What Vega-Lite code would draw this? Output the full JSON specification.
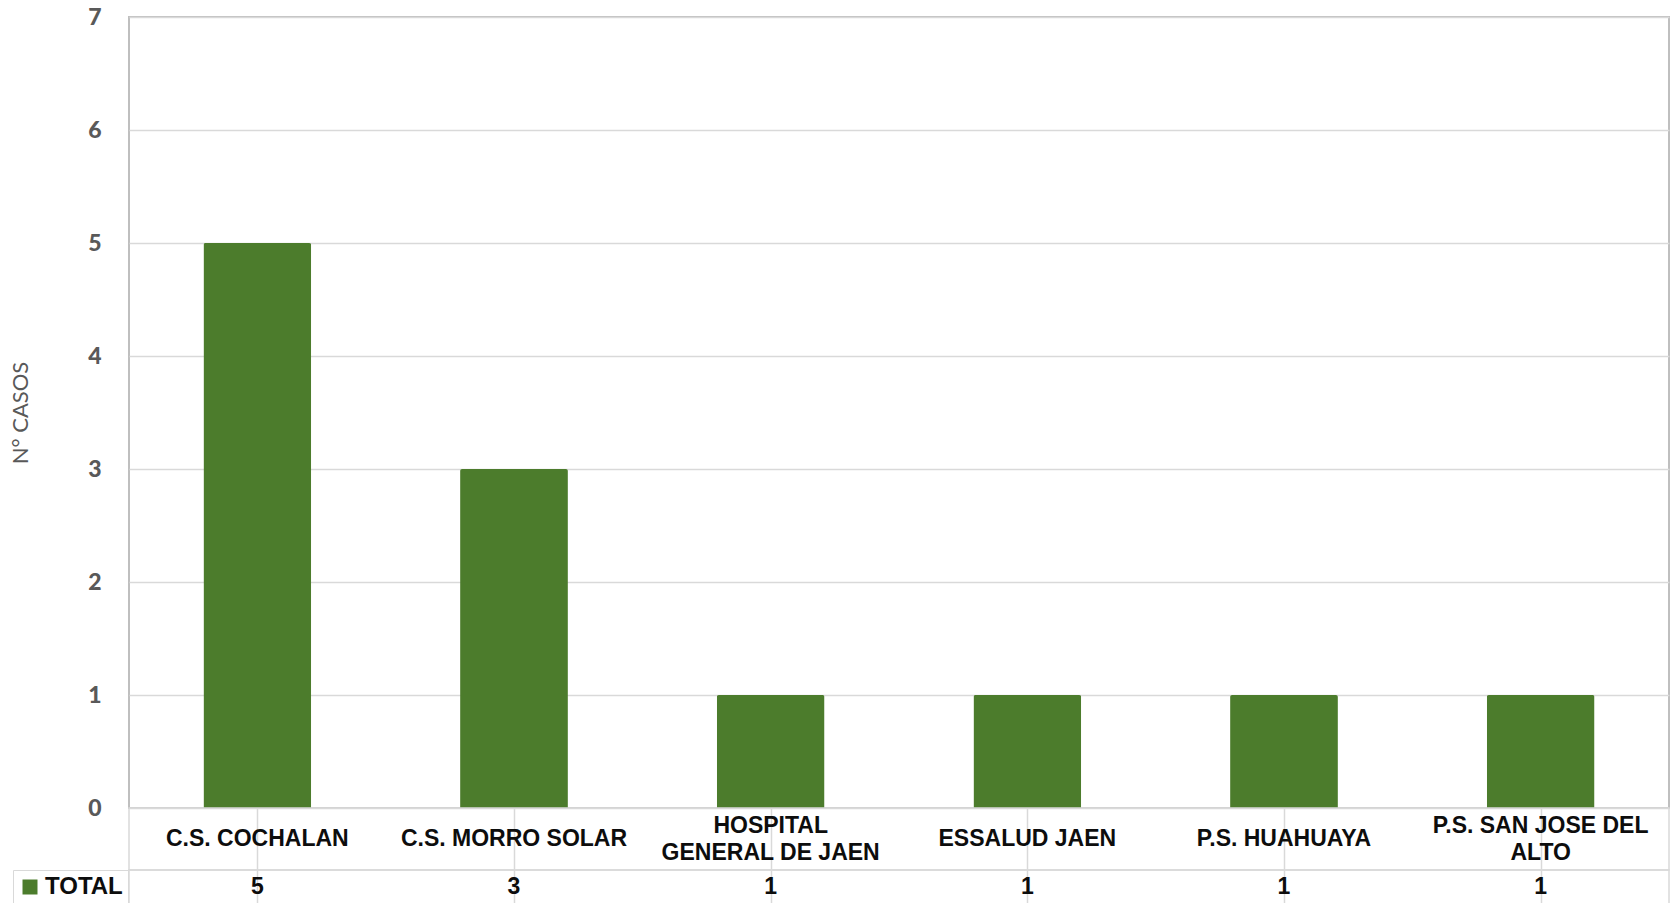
{
  "$schema": "https://vega.github.io/schema/vega-lite/v6.json",
  "background": "white",
  "padding": {"left": 8, "top": 5, "right": 5, "bottom": 0},
  "spacing": 0,
  "bounds": "flush",
  "config": {
    "font": "Liberation Sans",
    "view": {"stroke": "#d9d9d9", "strokeWidth": 1.5},
    "concat": {"spacing": 0}
  },
  "datasets": {
    "casos": [
      {"establecimiento": "C.S. COCHALAN", "serie": "TOTAL", "casos": 5},
      {"establecimiento": "C.S. MORRO SOLAR", "serie": "TOTAL", "casos": 3},
      {"establecimiento": "HOSPITAL\nGENERAL DE JAEN", "serie": "TOTAL", "casos": 1},
      {"establecimiento": "ESSALUD JAEN", "serie": "TOTAL", "casos": 1},
      {"establecimiento": "P.S. HUAHUAYA", "serie": "TOTAL", "casos": 1},
      {"establecimiento": "P.S. SAN JOSE DEL\nALTO", "serie": "TOTAL", "casos": 1}
    ]
  },
  "vconcat": [
    {
      "width": 1540,
      "height": 791,
      "data": {"name": "casos"},
      "view": {"stroke": "#bfbfbf", "strokeWidth": 2},
      "mark": {"type": "bar", "cornerRadiusTopLeft": 2, "cornerRadiusTopRight": 2},
      "encoding": {
        "x": {
          "field": "establecimiento",
          "type": "nominal",
          "sort": ["C.S. COCHALAN", "C.S. MORRO SOLAR", "HOSPITAL\nGENERAL DE JAEN", "ESSALUD JAEN", "P.S. HUAHUAYA", "P.S. SAN JOSE DEL\nALTO"],
          "scale": {"paddingInner": 0.58, "paddingOuter": 0.29},
          "axis": null
        },
        "y": {
          "field": "casos",
          "type": "quantitative",
          "scale": {"domain": [0, 7], "nice": false},
          "axis": {
            "title": "N° CASOS",
            "values": [0, 1, 2, 3, 4, 5, 6, 7],
            "grid": true,
            "gridColor": "#d9d9d9",
            "gridWidth": 1.5,
            "domain": false,
            "ticks": false,
            "labelFont": "Lato",
            "labelFontWeight": 900,
            "labelFontSize": 23,
            "labelColor": "#595959",
            "labelPadding": 28,
            "titleFont": "Lato",
            "titleFontWeight": "normal",
            "titleFontSize": 22,
            "titleColor": "#595959",
            "titlePadding": 55
          }
        },
        "color": {
          "field": "serie",
          "type": "nominal",
          "scale": {"range": ["#4c7c2c"]},
          "legend": {
            "orient": "none",
            "legendX": -116,
            "legendY": 853,
            "title": null,
            "symbolType": "square",
            "symbolSize": 225,
            "symbolStrokeWidth": 0,
            "labelFont": "Liberation Sans",
            "labelFontSize": 24,
            "labelFontWeight": "bold",
            "labelColor": "#0d0d0d",
            "labelOffset": 3,
            "padding": 5,
            "strokeColor": "#d9d9d9"
          }
        }
      }
    },
    {
      "width": 1540,
      "height": 62,
      "data": {"name": "casos"},
      "encoding": {
        "x": {
          "field": "establecimiento",
          "type": "nominal",
          "sort": ["C.S. COCHALAN", "C.S. MORRO SOLAR", "HOSPITAL\nGENERAL DE JAEN", "ESSALUD JAEN", "P.S. HUAHUAYA", "P.S. SAN JOSE DEL\nALTO"],
          "scale": {"paddingInner": 0.58, "paddingOuter": 0.29},
          "axis": {
            "title": null,
            "labels": false,
            "ticks": false,
            "domain": false,
            "grid": true,
            "bandPosition": 0,
            "gridColor": "#d9d9d9",
            "gridWidth": 1.5
          }
        },
        "text": {"field": "establecimiento"}
      },
      "layer": [
        {
          "transform": [{"filter": "indexof(datum.establecimiento, '\\n') < 0"}],
          "mark": {
            "type": "text",
            "font": "Liberation Sans",
            "fontSize": 23,
            "fontWeight": "bold",
            "color": "#0d0d0d"
          }
        },
        {
          "transform": [{"filter": "indexof(datum.establecimiento, '\\n') >= 0"}],
          "mark": {
            "type": "text",
            "lineBreak": "\n",
            "font": "Liberation Sans",
            "fontSize": 23,
            "fontWeight": "bold",
            "lineHeight": 27,
            "dy": -13.5,
            "color": "#0d0d0d"
          }
        }
      ]
    },
    {
      "width": 1540,
      "height": 34,
      "data": {"name": "casos"},
      "mark": {
        "type": "text",
        "font": "Liberation Sans",
        "fontSize": 23,
        "fontWeight": "bold",
        "color": "#0d0d0d"
      },
      "encoding": {
        "x": {
          "field": "establecimiento",
          "type": "nominal",
          "sort": ["C.S. COCHALAN", "C.S. MORRO SOLAR", "HOSPITAL\nGENERAL DE JAEN", "ESSALUD JAEN", "P.S. HUAHUAYA", "P.S. SAN JOSE DEL\nALTO"],
          "scale": {"paddingInner": 0.58, "paddingOuter": 0.29},
          "axis": {
            "title": null,
            "labels": false,
            "ticks": false,
            "domain": false,
            "grid": true,
            "bandPosition": 0,
            "gridColor": "#d9d9d9",
            "gridWidth": 1.5
          }
        },
        "text": {"field": "casos"}
      }
    }
  ]
}
